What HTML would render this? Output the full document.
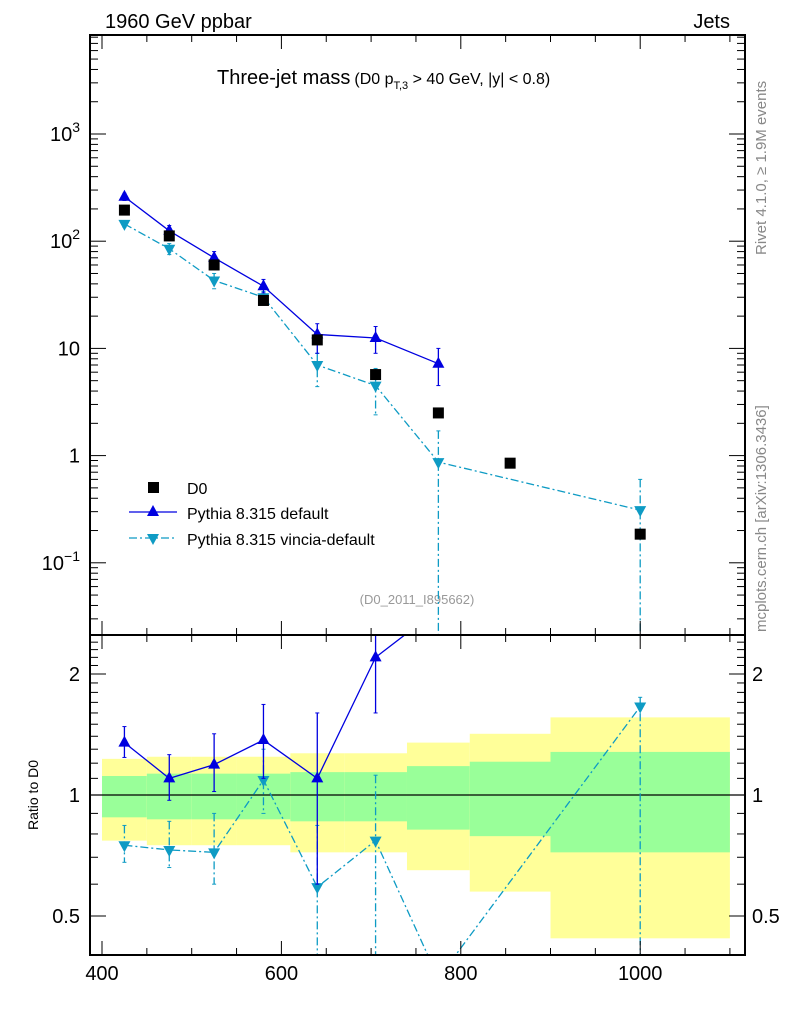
<!DOCTYPE html>
<html><head><meta charset="utf-8"><style>
body{margin:0;background:#fff;width:786px;height:1024px;overflow:hidden}
svg{font-family:"Liberation Sans",sans-serif}
</style></head><body>
<svg id="c" width="786" height="1024" xmlns="http://www.w3.org/2000/svg">
<text x="105" y="28" font-size="20">1960 GeV ppbar</text>
<text x="730" y="28" font-size="20" text-anchor="end">Jets</text>
<text x="217" y="84" font-size="20">Three-jet mass<tspan font-size="16" dx="4">(D0 p</tspan><tspan font-size="11" dy="5">T,3</tspan><tspan font-size="16" dy="-5"> &gt; 40 GeV, |y| &lt; 0.8)</tspan></text>
<text x="417" y="604" font-size="13" fill="#999" text-anchor="middle">(D0_2011_I895662)</text>
<text transform="translate(766,255) rotate(-90)" font-size="15" fill="#888">Rivet 4.1.0, ≥ 1.9M events</text>
<text transform="translate(766,632) rotate(-90)" font-size="15" fill="#888">mcplots.cern.ch [arXiv:1306.3436]</text>
<text transform="translate(38,795) rotate(-90)" font-size="14" text-anchor="middle">Ratio to D0</text>
<g id="g"></g>
</svg>
<script>
const xs=[425,475,525,580,640,705,775,855,1000];
const d0=[195,112,60,28,12,5.7,2.5,0.85,0.185];
const pdX=[425,475,525,580,640,705,775];
const pd=[260,125,70,38,13.5,12.5,7.2];
const pdUp=[280,140,80,44,17,16,10];
const pdDn=[240,110,62,33,9,9,4.5];
const vX=[425,475,525,580,640,705,775,1000];
const vv=[145,85,43,30,7,4.5,0.87,0.31];
const vUp=[155,95,50,34,9,6.5,1.7,0.6];
const vDn=[135,75,36,26,4.4,2.4,0.01,0.01];
const rdX=[425,475,525,580,640,705,775];
const rd=[1.35,1.1,1.19,1.37,1.1,2.2,2.9];
const rdUp=[1.48,1.26,1.42,1.68,1.6,2.8,3];
const rdDn=[1.24,0.97,1.02,1.1,0.6,1.6,2.8];
const rvX=[425,475,525,580,640,705,775,1000];
const rv=[0.75,0.73,0.72,1.09,0.59,0.77,0.35,1.66];
const rvUp=[0.84,0.86,0.9,1.3,0.84,1.12,0.4,1.75];
const rvDn=[0.68,0.66,0.6,0.9,0.3,0.37,0.3,0.3];
const edges=[400,450,500,550,610,670,740,810,900,1100];
const yelHi=[1.23,1.245,1.245,1.245,1.27,1.27,1.35,1.42,1.56];
const yelLo=[0.77,0.75,0.75,0.75,0.72,0.72,0.65,0.575,0.44];
const grnHi=[1.115,1.13,1.13,1.13,1.14,1.14,1.18,1.21,1.28];
const grnLo=[0.88,0.87,0.87,0.87,0.86,0.86,0.82,0.79,0.72];
const L=90,R=745,T=35,M=635,B=955;
const X=v=>102+(v-400)*0.897;
const Y=v=>134-(Math.log10(v)-3)*107.2;
const YR=v=>795-121*Math.log2(v);
const ns="http://www.w3.org/2000/svg",g=document.getElementById('g');
function mk(t,a,p){const e=document.createElementNS(ns,t);for(const k in a)e.setAttribute(k,a[k]);(p||g).appendChild(e);return e;}
const defs=mk('defs',{});
const c1=mk('clipPath',{id:'cu'},defs);mk('rect',{x:L,y:T,width:R-L,height:M-T},c1);
const c2=mk('clipPath',{id:'cr'},defs);mk('rect',{x:L,y:M,width:R-L,height:B-M},c2);
const up=mk('g',{'clip-path':'url(#cu)'});
const rp=mk('g',{'clip-path':'url(#cr)'});
for(let i=0;i<edges.length-1;i++){
 const y1=mk('rect',{x:X(edges[i]),y:YR(yelHi[i]),width:X(edges[i+1])-X(edges[i]),height:YR(yelLo[i])-YR(yelHi[i]),fill:'#ffff99'},rp);
 
 const g1=mk('rect',{x:X(edges[i]),y:YR(grnHi[i]),width:X(edges[i+1])-X(edges[i]),height:YR(grnLo[i])-YR(grnHi[i]),fill:'#99ff99'},rp);
 
}
mk('line',{x1:L,x2:R,y1:YR(1),y2:YR(1),stroke:'#000','stroke-width':1.3},rp);
function series(p,xa,ya,up_,dn,yf,col,dash,tri,name){
 const pts=xa.map((x,i)=>X(x)+','+yf(ya[i])).join(' ');
 const pl=mk('polyline',{points:pts,fill:'none',stroke:col,'stroke-width':1.3,'stroke-dasharray':dash||''},p);
 
 xa.forEach((x,i)=>{const cx=X(x),cy=yf(ya[i]);
  mk('line',{x1:cx,x2:cx,y1:yf(up_[i]),y2:yf(dn[i]),stroke:col,'stroke-width':1.3,'stroke-dasharray':dash||''},p);
  mk('line',{x1:cx-2,x2:cx+2,y1:yf(up_[i]),y2:yf(up_[i]),stroke:col},p);
  mk('line',{x1:cx-2,x2:cx+2,y1:yf(dn[i]),y2:yf(dn[i]),stroke:col},p);
  const pt=tri>0?`${cx},${cy-7} ${cx-6},${cy+4} ${cx+6},${cy+4}`:`${cx},${cy+7} ${cx-6},${cy-4} ${cx+6},${cy-4}`;
  const m=mk('polygon',{points:pt,fill:col},p);});
}
series(up,vX,vv,vUp,vDn,Y,'#0e9bc4','8,3,2,3',-1,'vincia');
series(up,pdX,pd,pdUp,pdDn,Y,'#0000e0','',1,'pythia-default');
xs.forEach((x,i)=>{const m=mk('rect',{x:X(x)-5.5,y:Y(d0[i])-5.5,width:11,height:11,fill:'#000'},up);});
series(rp,rvX,rv,rvUp,rvDn,YR,'#0e9bc4','8,3,2,3',-1,'vincia-ratio');
series(rp,rdX,rd,rdUp,rdDn,YR,'#0000e0','',1,'pythia-default-ratio');
mk('rect',{x:L,y:T,width:R-L,height:M-T,fill:'none',stroke:'#000','stroke-width':2});
mk('rect',{x:L,y:M,width:R-L,height:B-M,fill:'none',stroke:'#000','stroke-width':2});
for(let v=400;v<=1100;v+=50){const x=X(v);if(x<L||x>R)continue;const mj=v%200==0,l=mj?14:7;
 [T,M].forEach(y=>mk('line',{x1:x,x2:x,y1:y,y2:y+l,stroke:'#000'}));
 [M,B].forEach(y=>mk('line',{x1:x,x2:x,y1:y,y2:y-l,stroke:'#000'}));
 if(mj){const t=mk('text',{x:x,y:B+25,'font-size':20,'text-anchor':'middle'});t.textContent=v;}}
for(let e=-2;e<=3;e++)for(let k=1;k<10;k++){const v=k*Math.pow(10,e),y=Y(v);if(y<T||y>M)continue;const l=k==1?16:8;
 mk('line',{x1:L,x2:L+l,y1:y,y2:y,stroke:'#000'});mk('line',{x1:R,x2:R-l,y1:y,y2:y,stroke:'#000'});}
const ylab=[[3,'10','3'],[2,'10','2'],[1,'10',''],[0,'1',''],[-1,'10','−1']];
ylab.forEach(a=>{const t=mk('text',{x:80,y:Y(Math.pow(10,a[0]))+7,'font-size':20,'text-anchor':'end'});
 t.innerHTML=a[1]+(a[2]?`<tspan dy="-9" font-size="14">${a[2]}</tspan>`:'');});
for(let v=0.4;v<=2.5;v+=0.1){const y=YR(v);if(y<M||y>B)continue;const mj=Math.abs(v-0.5)<.01||Math.abs(v-1)<.01||Math.abs(v-2)<.01,l=mj?16:8;
 mk('line',{x1:L,x2:L+l,y1:y,y2:y,stroke:'#000'});mk('line',{x1:R,x2:R-l,y1:y,y2:y,stroke:'#000'});}
[[2,'2'],[1,'1'],[0.5,'0.5']].forEach(a=>{[[80,'end'],[752,'start']].forEach(p=>{const t=mk('text',{x:p[0],y:YR(a[0])+7,'font-size':20,'text-anchor':p[1]});t.textContent=a[1];});});
const lg=mk('g',{});
mk('rect',{x:148,y:482,width:11,height:11,fill:'#000'},lg);
mk('line',{x1:129,x2:177,y1:512,y2:512,stroke:'#0000e0','stroke-width':1.3},lg);
mk('polygon',{points:'153,505 147,516 159,516',fill:'#0000e0'},lg);
mk('line',{x1:129,x2:177,y1:538,y2:538,stroke:'#0e9bc4','stroke-width':1.3,'stroke-dasharray':'8,3,2,3'},lg);
mk('polygon',{points:'153,545 147,534 159,534',fill:'#0e9bc4'},lg);
[['D0',494],['Pythia 8.315 default',519],['Pythia 8.315 vincia-default',545]].forEach(a=>{const t=mk('text',{x:187,y:a[1],'font-size':16},lg);t.textContent=a[0];});
</script>
</body></html>
